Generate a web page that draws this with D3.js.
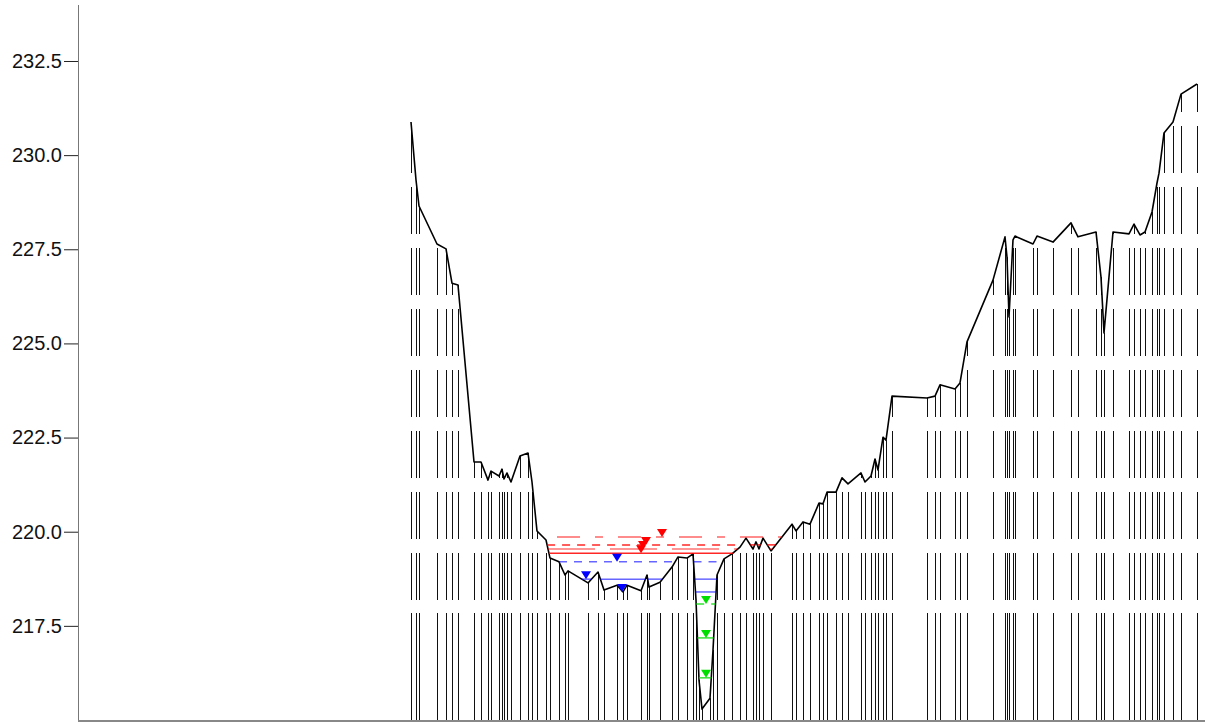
<!DOCTYPE html>
<html>
<head>
<meta charset="utf-8">
<script src="https://cdn.jsdelivr.net/npm/d3@7"></script>
<style>
  body { margin: 0; background: #fff; }
  svg { display: block; font-family: "Liberation Sans", Arial, sans-serif; }
</style>
</head>
<body>
<div id="chart"></div>
<script>
// cross section: station (ft) and ground elevation
const stations = [0, 10, 16, 52, 70, 82, 94, 126, 140, 154, 160, 176, 182, 186, 192, 200, 218, 234, 242, 252,
    270, 278, 296, 308, 314, 354, 374, 386, 412, 424, 432, 460, 472, 476, 498, 522, 534, 552, 564, 570,
    576, 582, 598, 604, 612, 626, 642, 658, 670, 684, 690, 696, 704, 720, 762, 770, 784, 798, 816, 824,
    832, 850, 862, 874, 900, 908, 920, 928, 934, 944, 950, 962, 1032, 1048, 1058, 1088, 1098, 1112, 1164, 1188,
    1192, 1196, 1204, 1208, 1244, 1252, 1284, 1320, 1334, 1370, 1380, 1386, 1404, 1436, 1446, 1458, 1468, 1482, 1492, 1496,
    1506, 1524, 1540, 1572];
const elevations = [230.88, 229.34, 228.65, 227.64, 227.51, 226.60, 226.55, 221.85, 221.85, 221.37, 221.61, 221.48, 221.66, 221.40, 221.56, 221.32, 222.01, 222.09, 221.32, 220.02,
    219.78, 219.30, 219.20, 218.85, 218.96, 218.64, 218.93, 218.45, 218.58, 218.40, 218.58, 218.43, 218.85, 218.53, 218.66, 219.06, 219.33, 219.30, 219.41, 218.19,
    216.06, 215.29, 215.58, 216.86, 218.85, 219.28, 219.41, 219.59, 219.83, 219.54, 219.73, 219.54, 219.83, 219.49, 220.20, 220.02, 220.26, 220.20, 220.76, 220.74,
    221.05, 221.05, 221.43, 221.27, 221.56, 221.32, 221.48, 221.93, 221.64, 222.51, 222.43, 223.60, 223.55, 223.60, 223.90, 223.79, 223.95, 225.04, 226.68, 227.83,
    227.29, 225.70, 227.75, 227.85, 227.64, 227.85, 227.69, 228.20, 227.83, 227.96, 226.76, 225.28, 227.96, 227.91, 228.17, 227.88, 227.96, 228.49, 229.26, 229.52,
    230.59, 230.88, 231.62, 231.89];

// water surface elevations and the station of each WS marker
const wsElev = [219.86, 219.65, 219.54, 219.43, 219.20, 218.74, 218.40, 218.08, 217.18, 216.12];
const wsMarkStation = [502, 470, 464, 460, 412, 350, 422, 590, 590, 590];

const yTicks = [217.5, 220.0, 222.5, 225.0, 227.5, 230.0, 232.5];

const width = 1205;
const height = 723;

const x = d3.scaleLinear().domain([-666, 1588]).range([78, 1205]);
const y = d3.scaleLinear().domain([215, 234]).range([720, 4.5]);

const svg = d3.select('#chart')
    .append('svg')
    .attr('width', width)
    .attr('height', height);

const ground = stations.map((s, i) => ({sta: s, elev: elevations[i]}));

// vertical drop lines, dashed from the bottom up
const dropDash = [107, 13];
for (let i = 0; i < 12; i++) dropDash.push(47, 14);

svg.append('g')
    .attr('class', 'drops')
    .selectAll('path')
    .data(ground)
    .enter()
    .append('path')
    .attr('d', d => `M${x(d.sta) + 0.5},${y(215)}V${y(d.elev)}`)
    .attr('fill', 'none')
    .attr('stroke', '#111')
    .attr('stroke-width', 1)
    .attr('stroke-dasharray', dropDash.join(','));

// ground line
const line = d3.line().x(d => x(d.sta)).y(d => y(d.elev));
svg.append('path')
    .datum(ground)
    .attr('d', line)
    .attr('fill', 'none')
    .attr('stroke', '#000')
    .attr('stroke-width', 1.6)
    .attr('stroke-linejoin', 'round');

// where the ground is below a water surface
function wetSegments(ws) {
    const segs = [];
    let start = null;
    ground.forEach((g, i) => {
        const wet = g.elev < ws;
        if (i === 0) {
            if (wet) start = g.sta;
            return;
        }
        const p = ground[i - 1];
        if ((p.elev < ws) !== wet) {
            const t = (ws - p.elev) / (g.elev - p.elev);
            const s = p.sta + t * (g.sta - p.sta);
            if (wet) start = s;
            else { segs.push([start, s]); start = null; }
        }
    });
    if (start !== null) segs.push([start, ground[ground.length - 1].sta]);
    return segs;
}

const wsStyle = [
    {color: '#ff0000', op: 0.6, dash: '8,15,23,15', off: -52},
    {color: '#ff0000', op: 0.85, dash: '8,7'},
    {color: '#ff0000', op: 0.55, dash: '47,15'},
    {color: '#ff0000', op: 0.85, dash: null},
    {color: '#0000ff', op: 0.6, dash: '8,7'},
    {color: '#0000ff', op: 0.6, dash: null},
    {color: '#0000ff', op: 0.6, dash: null},
    {color: '#00dd00', op: 0.8, dash: '8,7'},
    {color: '#00dd00', op: 0.8, dash: null},
    {color: '#00dd00', op: 0.8, dash: null}
];

const wsG = svg.append('g').attr('class', 'water');
wsElev.forEach((ws, i) => {
    const st = wsStyle[i];
    wsG.append('g')
        .selectAll('line')
        .data(wetSegments(ws))
        .enter()
        .append('line')
        .attr('x1', d => x(d[0]))
        .attr('x2', d => x(d[1]))
        .attr('y1', y(ws))
        .attr('y2', y(ws))
        .attr('stroke', st.color)
        .attr('stroke-opacity', st.op)
        .attr('stroke-width', 1.5)
        .attr('stroke-dasharray', st.dash)
        .attr('stroke-dashoffset', st.off || 0);
});

// WS markers (inverted triangles)
svg.append('g')
    .attr('class', 'markers')
    .selectAll('path')
    .data(wsElev.map((ws, i) => ({ws: ws, sta: wsMarkStation[i], color: wsStyle[i].color})))
    .enter()
    .append('path')
    .attr('d', d => {
        const cx = x(d.sta), cy = y(d.ws);
        return `M${cx - 5},${cy - 8}L${cx + 5},${cy - 8}L${cx},${cy}Z`;
    })
    .attr('fill', d => d.color);

// axes
const yAxis = d3.axisLeft(y)
    .tickValues(yTicks)
    .tickFormat(d3.format('.1f'))
    .tickSize(14)
    .tickSizeOuter(0)
    .tickPadding(2);

const gy = svg.append('g')
    .attr('transform', `translate(${x(-666)},0)`)
    .call(yAxis);
gy.select('.domain').attr('stroke', '#777');
gy.selectAll('.tick line').attr('stroke', '#222');
gy.selectAll('.tick text')
    .attr('fill', '#111')
    .style('font-size', '20px')
    .style('font-family', '"Liberation Sans", Arial, sans-serif');

svg.append('line')
    .attr('x1', x(-666))
    .attr('x2', x(1588))
    .attr('y1', y(215) + 1)
    .attr('y2', y(215) + 1)
    .attr('stroke', '#888')
    .attr('stroke-width', 2);
</script>
</body>
</html>
